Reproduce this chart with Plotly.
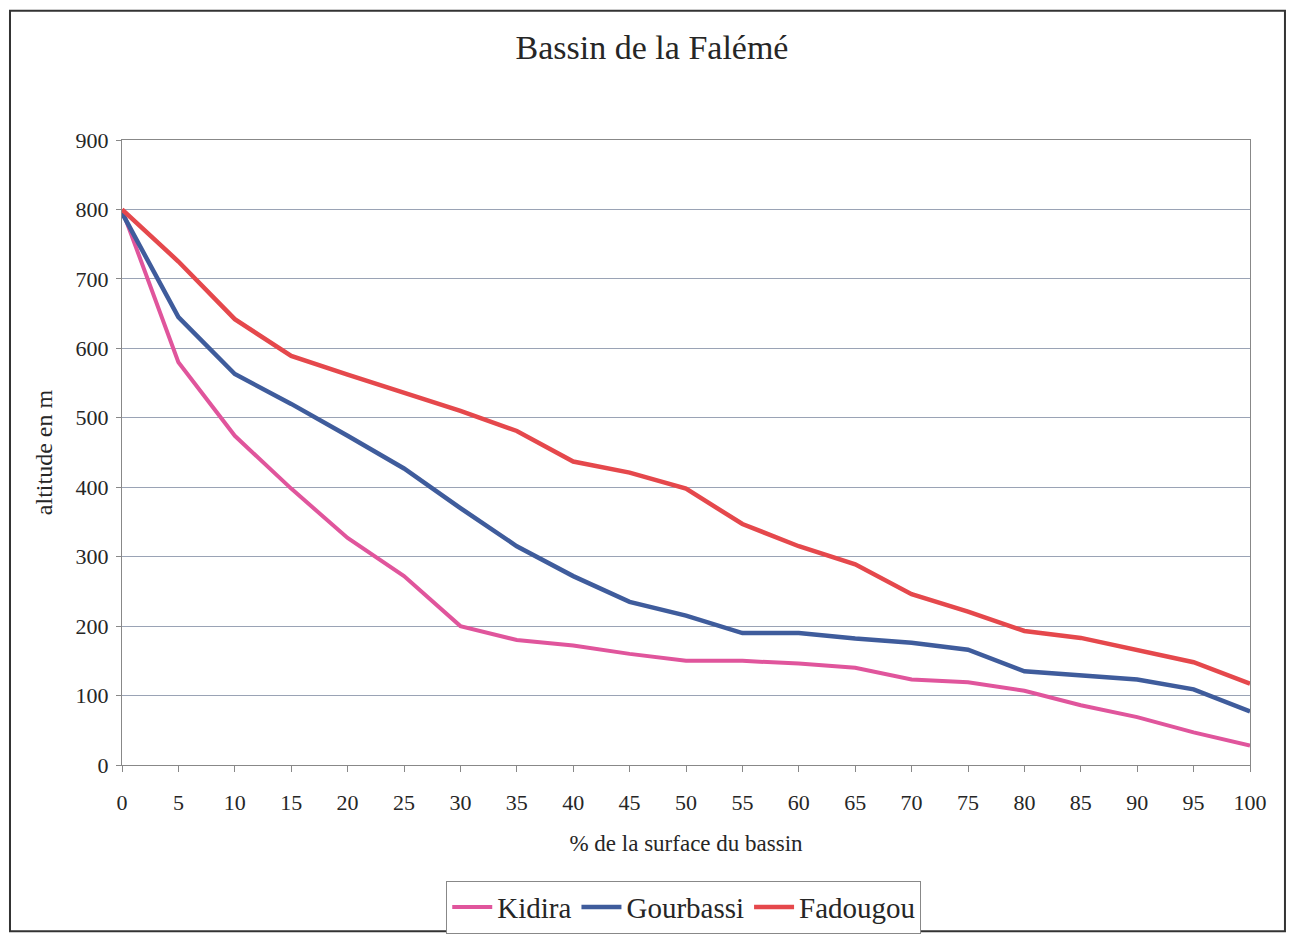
import plotly.graph_objects as go

surface_pct = [0, 5, 10, 15, 20, 25, 30, 35, 40, 45, 50, 55, 60, 65, 70, 75, 80, 85, 90, 95, 100]
kidira = [800, 580, 474, 398, 327, 272, 200, 180, 172, 160, 150, 150, 146, 140, 123, 119, 107, 86, 69, 47, 28]
gourbassi = [795, 645, 563, 520, 474, 427, 370, 315, 272, 235, 215, 190, 190, 182, 176, 166, 135, 129, 123, 109, 77]
fadougou = [800, 725, 642, 589, 562, 536, 510, 481, 437, 421, 398, 347, 315, 289, 246, 221, 193, 183, 166, 148, 117]
y_ticks = [0, 100, 200, 300, 400, 500, 600, 700, 800, 900]

FONT = "Liberation Serif, Times New Roman, serif"
TXT = "#262626"

fig = go.Figure()
fig.add_trace(go.Scatter(x=surface_pct, y=kidira, mode="lines", name="Kidira",
                         line=dict(color="#e0559c", width=4)))
fig.add_trace(go.Scatter(x=surface_pct, y=gourbassi, mode="lines", name="Gourbassi",
                         line=dict(color="#3f5c9c", width=4.5)))
fig.add_trace(go.Scatter(x=surface_pct, y=fadougou, mode="lines", name="Fadougou",
                         line=dict(color="#e5484c", width=4.5)))

fig.update_layout(
    width=1286, height=938,
    paper_bgcolor="white", plot_bgcolor="white",
    margin=dict(l=114, r=44, t=132, b=178),
    font=dict(family=FONT, color=TXT, size=22),
    title=dict(text="Bassin de la Falémé", x=0.5008, xanchor="center",
               y=0.958, yanchor="middle",
               font=dict(family=FONT, size=34, color=TXT)),
    showlegend=True,
    legend=dict(orientation="h", x=0.498, xanchor="center", y=-0.185, yanchor="top",
                bordercolor="#888888", borderwidth=1, bgcolor="white",
                font=dict(family=FONT, size=29, color=TXT),
                itemwidth=40, tracegroupgap=0),
    xaxis=dict(range=[0, 100], tickmode="array", tickvals=surface_pct,
               ticks="outside", ticklen=6, tickcolor="#888888",
               ticklabelstandoff=12,
               showline=True, linecolor="#888888", linewidth=1, mirror=True,
               showgrid=False, zeroline=False,
               tickfont=dict(family=FONT, size=22, color=TXT),
               title=dict(text="% de la surface du bassin", standoff=20,
                          font=dict(family=FONT, size=23, color=TXT))),
    yaxis=dict(range=[0, 900], tickmode="array", tickvals=y_ticks,
               ticks="outside", ticklen=5, tickcolor="#888888",
               ticklabelstandoff=3,
               showline=True, linecolor="#888888", linewidth=1, mirror=True,
               showgrid=True, gridcolor="#9aa3b5", gridwidth=1, zeroline=False,
               tickfont=dict(family=FONT, size=22, color=TXT),
               title=dict(text="altitude en m", standoff=16,
                          font=dict(family=FONT, size=24, color=TXT))),
    shapes=[dict(type="rect", xref="paper", yref="paper",
                 x0=-0.0993, x1=1.031, y0=-0.266, y1=1.207,
                 line=dict(color="#333333", width=2), fillcolor="rgba(0,0,0,0)",
                 layer="below")],
)

fig.write_html("out.html")
